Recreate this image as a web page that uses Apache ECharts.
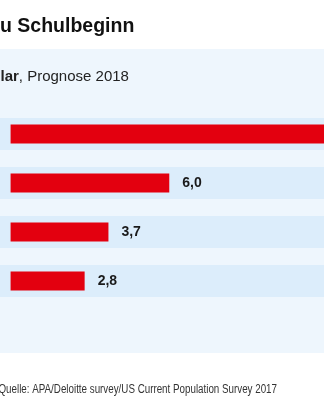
<!DOCTYPE html>
<html>
<head>
<meta charset="utf-8">
<script src="https://cdn.jsdelivr.net/npm/echarts@6/dist/echarts.min.js"></script>
<style>
html,body{margin:0;padding:0;background:#fff;}
#c{width:324px;height:400px;}
</style>
</head>
<body>
<div id="c"></div>
<script>
const titleText = 'u Schulbeginn';
const subtitleBold = 'lar';
const subtitleRest = ', Prognose 2018';
const sourceText = 'Quelle: APA/Deloitte survey/US Current Population Survey 2017';
const categories = ['Kategorie 1', 'Kategorie 2', 'Kategorie 3', 'Kategorie 4'];
const values = [15.1, 6.0, 3.7, 2.8];

const chart = echarts.init(document.getElementById('c'), null, {renderer: 'canvas'});
const FONT = '"Liberation Sans", Arial, sans-serif';

chart.setOption({
  animation: false,
  backgroundColor: '#ffffff',
  grid: {left: 0, right: 0, top: 109.5, height: 196, containLabel: false},
  xAxis: {
    type: 'value', min: -0.4, max: 11.85,
    show: false, splitLine: {show: false}
  },
  yAxis: [
    {type: 'category', data: categories, inverse: true, show: false},
    {type: 'category', data: categories, inverse: true, show: false}
  ],
  graphic: [
    {type: 'rect', z: -10, silent: true, shape: {x: 0, y: 49, width: 324, height: 304}, style: {fill: '#eef6fd'}},
    {type: 'text', x: 0, y: 17, style: {text: titleText, font: 'bold 19.5px ' + FONT, fill: '#111111', verticalAlign: 'top'}},
    {type: 'text', x: 0.5, y: 69.5, style: {
      text: '{b|' + subtitleBold + '}{r|' + subtitleRest + '}',
      verticalAlign: 'top',
      rich: {
        b: {fontFamily: FONT, fontWeight: 'bold', fontSize: 15, fill: '#222222'},
        r: {fontFamily: FONT, fontSize: 15, fill: '#222222'}
      }
    }},
    {type: 'text', x: -1.5, y: 383.5, scaleX: 0.816, style: {text: sourceText, font: '12px ' + FONT, fill: '#333333', verticalAlign: 'top'}}
  ],
  series: [
    {
      type: 'bar', name: 'band', data: values, barWidth: 32, silent: true, yAxisIndex: 1,
      itemStyle: {color: 'rgba(0,0,0,0)'},
      showBackground: true,
      backgroundStyle: {color: '#dcedfb'}
    },
    {
      type: 'bar', name: 'value', data: values, barWidth: 19, yAxisIndex: 0,
      itemStyle: {color: '#e3000f'},
      label: {
        show: true, position: 'right', distance: 13,
        fontFamily: FONT, fontWeight: 'bold', fontSize: 14, color: '#1a1a1a',
        formatter: p => p.value.toFixed(1).replace('.', ',')
      }
    }
  ]
});
</script>
</body>
</html>
